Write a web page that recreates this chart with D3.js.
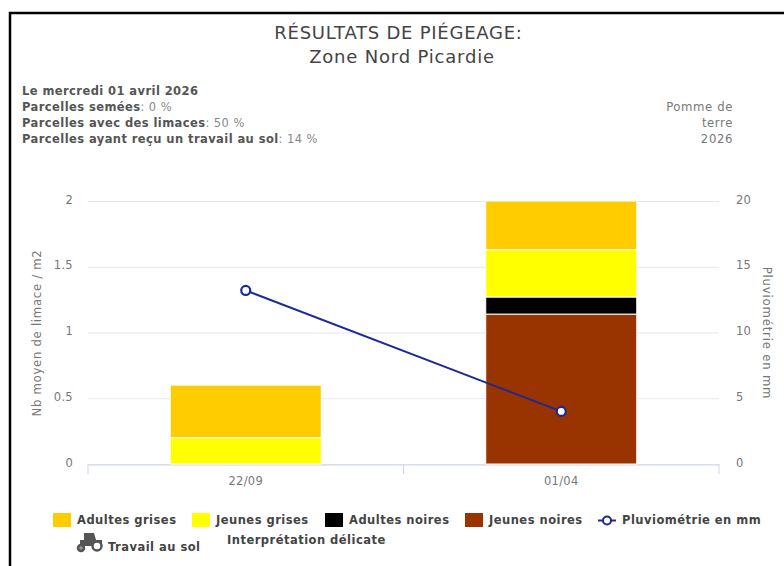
<!DOCTYPE html>
<html>
<head>
<meta charset="utf-8">
<script src="https://cdnjs.cloudflare.com/ajax/libs/d3/7.8.5/d3.min.js"></script>
<style>
  html, body { margin: 0; padding: 0; background: #fff; }
  svg { display: block; }
  text { font-family: "DejaVu Sans", sans-serif; }
  .tick text { font-family: "DejaVu Sans", sans-serif; font-size: 11.5px; fill: #777; letter-spacing: 0.3px; }
</style>
</head>
<body>
<svg id="chart" width="784" height="566"></svg>
<script>
const dates = ['22/09', '01/04']
const seriesNames = ['Jeunes noires', 'Adultes noires', 'Jeunes grises', 'Adultes grises']
const jeunesNoires = [0, 1.14]
const adultesNoires = [0, 0.13]
const jeunesGrises = [0.2, 0.36]
const adultesGrises = [0.4, 0.37]
const pluvio = [13.2, 4]
const slugTicks = [0, 0.5, 1, 1.5, 2]
const rainTicks = [0, 5, 10, 15, 20]
const colors = ['#993300', '#000000', '#ffff00', '#ffcc00']
const infoLines = [
  ['Le mercredi 01 avril 2026', ''],
  ['Parcelles semées', ': 0 %'],
  ['Parcelles avec des limaces', ': 50 %'],
  ['Parcelles ayant reçu un travail au sol', ': 14 %']
]
const cropLines = ['Pomme de', 'terre', '2026']
const legendItems = ['Adultes grises', 'Jeunes grises', 'Adultes noires', 'Jeunes noires']

const svg = d3.select('#chart')
const plotLeft = 88
const plotRight = 719
const plotTop = 201
const plotBottom = 464

// page frame, open on the right and bottom
svg.append('path')
  .attr('d', 'M10,566V13H784')
  .attr('fill', 'none')
  .attr('stroke', '#000')
  .attr('stroke-width', 2.5)

// title
svg.append('text').attr('x', 398.5).attr('y', 39).attr('text-anchor', 'middle')
  .attr('font-size', 18).attr('letter-spacing', 0.75).attr('fill', '#444').text('RÉSULTATS DE PIÉGEAGE:')
svg.append('text').attr('x', 402).attr('y', 63).attr('text-anchor', 'middle')
  .attr('font-size', 18).attr('letter-spacing', 0.8).attr('fill', '#444').text('Zone Nord Picardie')

// info block
const info = svg.append('g')
infoLines.forEach((d, i) => {
  const t = info.append('text').attr('x', 22).attr('y', 94.5 + i * 16.1)
    .attr('font-size', 11.5).attr('letter-spacing', 0.42)
  t.append('tspan').attr('fill', '#555').attr('font-weight', 'bold').text(d[0])
  t.append('tspan').attr('fill', '#888').text(d[1])
})
cropLines.forEach((d, i) => {
  svg.append('text').attr('x', 733).attr('y', 111 + i * 16).attr('text-anchor', 'end')
    .attr('font-size', 11.7).attr('letter-spacing', 0.6).attr('fill', '#777').text(d)
})

// scales
const x = d3.scaleBand().domain(dates).range([plotLeft, plotRight])
const yLeft = d3.scaleLinear().domain([0, 2]).range([plotBottom, plotTop])
const yRight = d3.scaleLinear().domain([0, 20]).range([plotBottom, plotTop])
const barWidth = 151

// grid
svg.append('g').selectAll('line').data(slugTicks).enter().append('line')
  .attr('x1', plotLeft).attr('x2', plotRight)
  .attr('y1', d => yLeft(d) + 0.5).attr('y2', d => yLeft(d) + 0.5)
  .attr('stroke', '#e4e6ee')

// x axis
const xAxis = svg.append('g').attr('transform', `translate(0,${plotBottom + 0.5})`)
  .call(d3.axisBottom(x).tickSize(0).tickPadding(12))
xAxis.select('.domain').attr('stroke', '#ccd6eb')
svg.append('g').selectAll('line').data([plotLeft, (plotLeft + plotRight) / 2, plotRight]).enter().append('line')
  .attr('x1', d => d).attr('x2', d => d)
  .attr('y1', plotBottom).attr('y2', plotBottom + 10)
  .attr('stroke', '#ccd6eb')

// y axes
const leftAxis = svg.append('g').attr('transform', `translate(${plotLeft},-1.5)`)
  .call(d3.axisLeft(yLeft).tickValues(slugTicks).tickFormat(d => d).tickSize(0).tickPadding(15))
leftAxis.select('.domain').remove()
const rightAxis = svg.append('g').attr('transform', `translate(${plotRight},-1.5)`)
  .call(d3.axisRight(yRight).tickValues(rainTicks).tickSize(0).tickPadding(17))
rightAxis.select('.domain').remove()

svg.append('text').attr('transform', 'translate(41,333) rotate(-90)').attr('text-anchor', 'middle')
  .attr('font-size', 11.7).attr('letter-spacing', 0.7).attr('fill', '#777').text('Nb moyen de limace / m2')
svg.append('text').attr('transform', 'translate(763,333) rotate(90)').attr('text-anchor', 'middle')
  .attr('font-size', 11.7).attr('letter-spacing', 0.8).attr('fill', '#777').text('Pluviométrie en mm')

// stacked bars
const table = dates.map((d, i) => ({
  date: d,
  'Jeunes noires': jeunesNoires[i],
  'Adultes noires': adultesNoires[i],
  'Jeunes grises': jeunesGrises[i],
  'Adultes grises': adultesGrises[i]
}))
const stacked = d3.stack().keys(seriesNames)(table)
svg.append('g').selectAll('g').data(stacked).enter().append('g')
  .attr('fill', (d, i) => colors[i])
  .selectAll('rect').data(d => d.filter(p => p[1] > p[0])).enter().append('rect')
  .attr('x', d => x(d.data.date) + x.bandwidth() / 2 - barWidth / 2)
  .attr('width', barWidth)
  .attr('y', d => yLeft(d[1]))
  .attr('height', d => yLeft(d[0]) - yLeft(d[1]))
  .attr('stroke', '#fff')
  .attr('stroke-width', 1)

// rain line
const rainPoints = dates.map((d, i) => [x(d) + x.bandwidth() / 2, yRight(pluvio[i])])
svg.append('path')
  .attr('d', d3.line()(rainPoints))
  .attr('fill', 'none')
  .attr('stroke', '#1c2a96')
  .attr('stroke-width', 2)
svg.append('g').selectAll('circle').data(rainPoints).enter().append('circle')
  .attr('cx', d => d[0]).attr('cy', d => d[1]).attr('r', 4.5)
  .attr('fill', '#fff').attr('stroke', '#1c2a96').attr('stroke-width', 2.2)

// legend
const legendX = [53, 192, 325, 465]
const legendColors = ['#ffcc00', '#ffff00', '#000000', '#993300']
const legendText = (px, py, label) => svg.append('text').attr('x', px).attr('y', py)
  .attr('font-size', 11.5).attr('letter-spacing', 0.48)
  .attr('font-weight', 'bold').attr('fill', '#444').text(label)
legendItems.forEach((d, i) => {
  svg.append('rect').attr('x', legendX[i]).attr('y', 513).attr('width', 18).attr('height', 14)
    .attr('fill', legendColors[i])
  legendText(legendX[i] + 24, 524, d)
})
svg.append('line').attr('x1', 598).attr('x2', 616).attr('y1', 520.5).attr('y2', 520.5)
  .attr('stroke', '#1c2a96').attr('stroke-width', 2)
svg.append('circle').attr('cx', 607).attr('cy', 520.5).attr('r', 4)
  .attr('fill', '#fff').attr('stroke', '#1c2a96').attr('stroke-width', 2)
legendText(622, 524, 'Pluviométrie en mm')

// tractor icon
const tractor = svg.append('g').attr('fill', '#555')
tractor.append('path').attr('d', 'M84,533H94L96,540H102V546H80V540H84Z')
tractor.append('circle').attr('cx', 97).attr('cy', 546).attr('r', 4.5).attr('fill', '#fff')
  .attr('stroke', '#555').attr('stroke-width', 2.5)
tractor.append('circle').attr('cx', 81).attr('cy', 548).attr('r', 3).attr('fill', '#999')
  .attr('stroke', '#555').attr('stroke-width', 2.5)
legendText(108, 551, 'Travail au sol')
legendText(227, 544, 'Interprétation délicate')
</script>
</body>
</html>
